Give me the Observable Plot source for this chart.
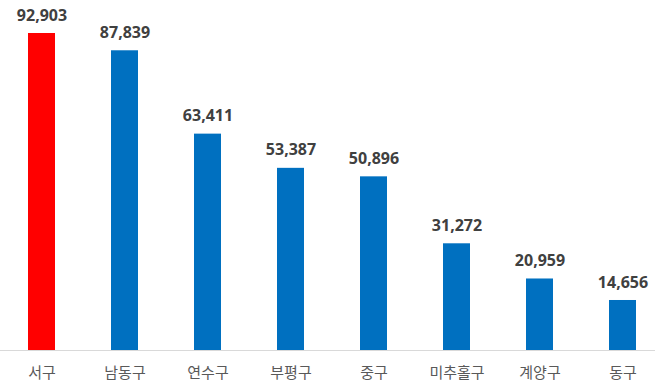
<!DOCTYPE html>
<html><head><meta charset="utf-8">
<script src="https://cdn.jsdelivr.net/npm/d3@7"></script>
<script src="https://cdn.jsdelivr.net/npm/@observablehq/plot@0.6"></script>
<style>body{margin:0;background:#fff}</style>
</head><body><div id="chart"></div>
<script>
const districts = ["서구","남동구","연수구","부평구","중구","미추홀구","계양구","동구"];
const values = [92903, 87839, 63411, 53387, 50896, 31272, 20959, 14656];
const colors = ["#FF0000","#0070C0","#0070C0","#0070C0","#0070C0","#0070C0","#0070C0","#0070C0"];
const data = districts.map((d,i)=>({d, v: values[i], c: colors[i]}));
const chart = Plot.plot({
  width: 660, height: 385,
  marginLeft: 0, marginRight: 5, marginTop: 0, marginBottom: 35,
  style: {fontFamily: "'Noto Sans CJK KR', 'Noto Sans', sans-serif", background: "#fff"},
  x: {domain: districts, range: [-2, 665], paddingInner: 0.68, paddingOuter: 0.34, label: null},
  y: {domain: [0, 92903], range: [350, 33], axis: null},
  marks: [
    Plot.barY(data, {x: "d", y: "v", fill: "c"}),
    Plot.ruleY([0], {stroke: "#D9D9D9", strokeWidth: 1}),
    Plot.text(data, {x: "d", y: "v", text: d => d3.format(",")(d.v), dy: -18, fill: "#404040", fontSize: 16, fontWeight: "bold", fontFamily: "'Noto Sans', sans-serif"}),
    Plot.axisX({tickSize: 0, tickPadding: 17, fontSize: 15, label: null, fill: "#595959"})
  ]
});
document.getElementById("chart").appendChild(chart);
</script></body></html>
